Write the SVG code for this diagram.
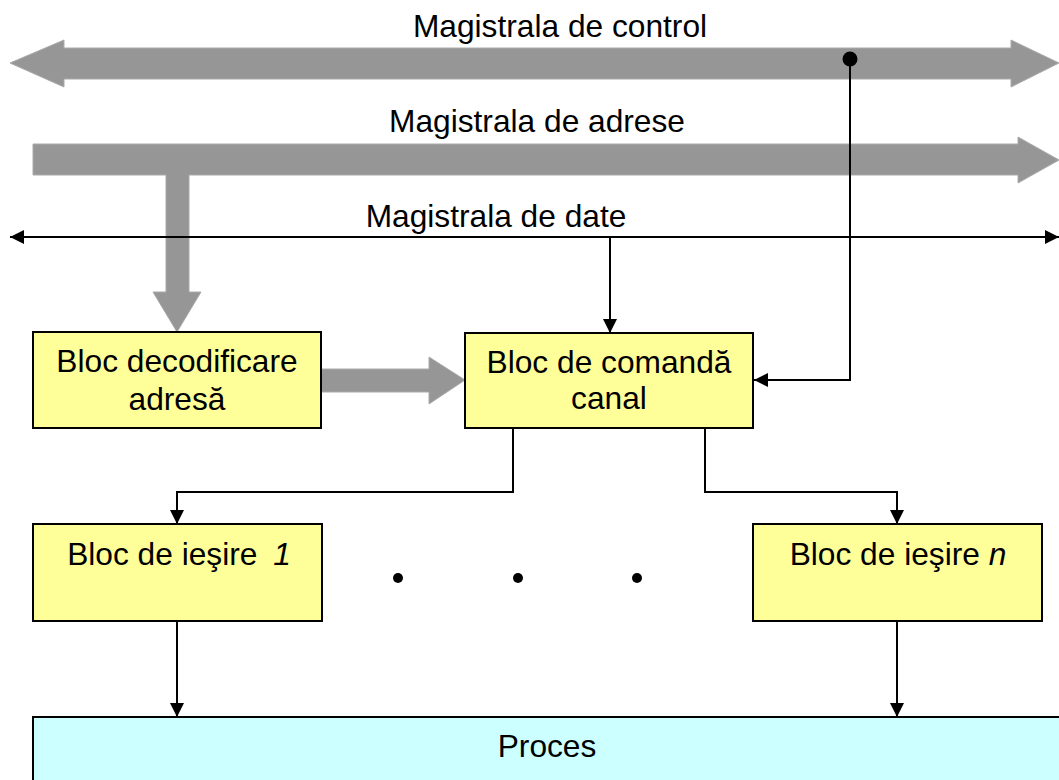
<svg xmlns="http://www.w3.org/2000/svg" width="1059" height="780" viewBox="0 0 1059 780">
<defs>
<style>
text{font-family:"Liberation Sans",Arial,sans-serif;font-size:31.7px;fill:#000;text-anchor:middle}
.bus{fill:#969696;stroke:#aaaaaa;stroke-width:1}
.box{fill:#ffff99;stroke:#000;stroke-width:2}
.proc{fill:#ccffff;stroke:#000;stroke-width:2}
.ln{fill:none;stroke:#000;stroke-width:2}
</style>
<marker id="ah" viewBox="0 0 14 14" refX="14" refY="7" markerWidth="14" markerHeight="14" markerUnits="userSpaceOnUse" orient="auto">
<path d="M0,0 L14,7 L0,14 Z" fill="#000"/>
</marker>
<marker id="ahs" viewBox="0 0 14 14" refX="14" refY="7" markerWidth="14" markerHeight="14" markerUnits="userSpaceOnUse" orient="auto-start-reverse">
<path d="M0,0 L14,7 L0,14 Z" fill="#000"/>
</marker>
</defs>
<rect width="1059" height="780" fill="#fff"/>
<g id="buses">
<polygon id="bus-control" class="bus" points="10,63 64,40 64,48 1011,48 1011,40 1059,63 1011,87 1011,79 64,79 64,87"/>
<polygon id="bus-address" class="bus" points="33,144 1018,144 1018,137 1059,160 1018,183 1018,175 189,175 189,292 201,292 177,332 153,292 166,292 166,175 33,175"/>
<line id="bus-data" class="ln" x1="10" y1="237" x2="1059" y2="237" marker-start="url(#ahs)" marker-end="url(#ahs)"/>
<text x="560" y="37">Magistrala de control</text>
<text x="537" y="132">Magistrala de adrese</text>
<text x="496" y="227">Magistrala de date</text>
</g>
<g id="connectors">
<polygon class="bus" points="321,369 429,369 429,357 465,380 429,404 429,392 321,392"/>
<line class="ln" x1="610" y1="237" x2="610" y2="333" marker-end="url(#ah)"/>
<polyline class="ln" points="850,59 850,380 754,380" marker-end="url(#ah)"/>
<circle cx="850" cy="59" r="7.5" fill="#000"/>
<polyline class="ln" points="513,428 513,492 177,492 177,524" marker-end="url(#ah)"/>
<polyline class="ln" points="705,428 705,492 897,492 897,524" marker-end="url(#ah)"/>
<line class="ln" x1="177" y1="621" x2="177" y2="717" marker-end="url(#ah)"/>
<line class="ln" x1="897" y1="621" x2="897" y2="717" marker-end="url(#ah)"/>
</g>
<g id="node-decod">
<rect class="box" x="33" y="332" width="288" height="96"/>
<text x="177" y="372">Bloc decodificare</text>
<text x="177" y="410">adresă</text>
</g>
<g id="node-comanda">
<rect class="box" x="465" y="333" width="288" height="95"/>
<text x="609" y="373">Bloc de comandă</text>
<text x="609" y="409">canal</text>
</g>
<g id="node-iesire1">
<rect class="box" x="33" y="524" width="289" height="97"/>
<text x="179" y="565">Bloc de ieşire <tspan font-style="italic" dx="7">1</tspan></text>
</g>
<g id="node-iesiren">
<rect class="box" x="753" y="524" width="289" height="97"/>
<text x="898" y="565">Bloc de ieşire <tspan font-style="italic">n</tspan></text>
</g>
<g id="dots">
<circle cx="398" cy="578" r="5" fill="#000"/>
<circle cx="518" cy="578" r="5" fill="#000"/>
<circle cx="637" cy="578" r="5" fill="#000"/>
</g>
<g id="node-proces">
<rect class="proc" x="33" y="717" width="1040" height="100"/>
<text x="547" y="757">Proces</text>
</g>
</svg>
